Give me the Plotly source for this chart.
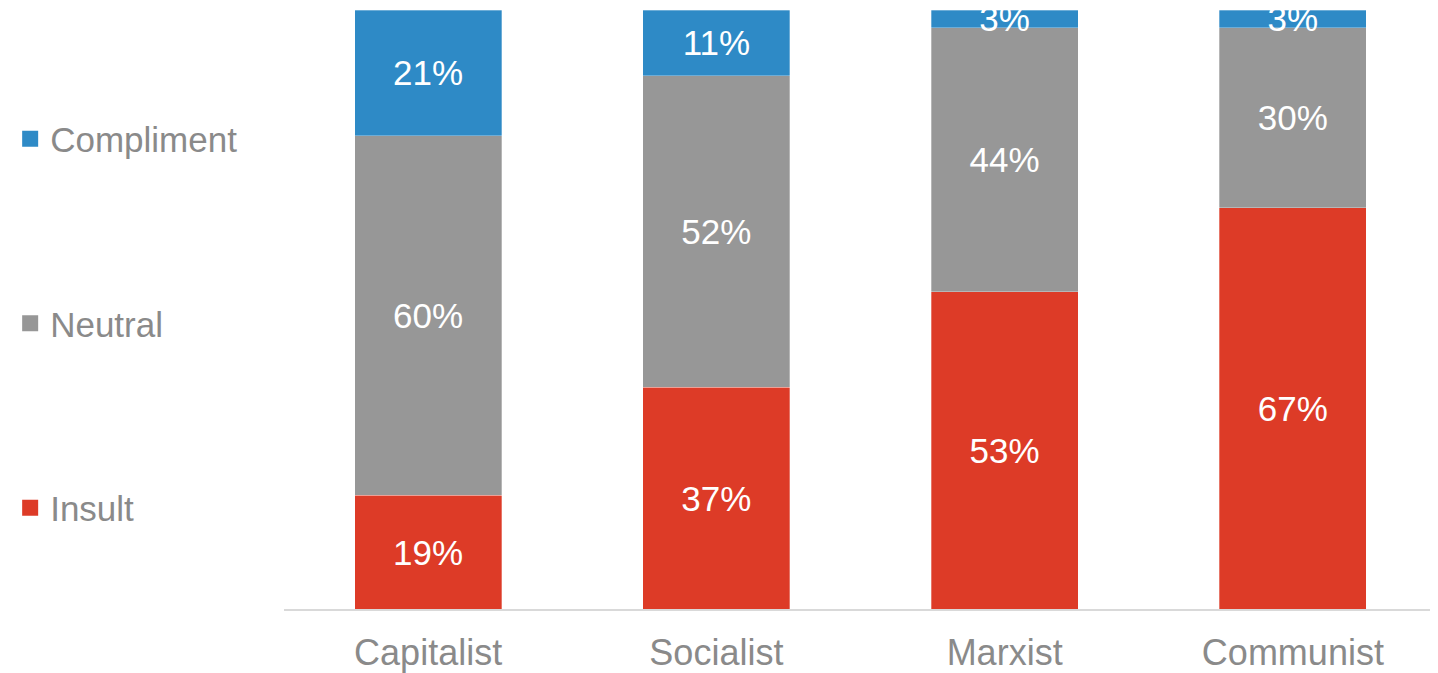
import plotly.graph_objects as go

categories = ["Capitalist", "Socialist", "Marxist", "Communist"]
insult = [19, 37, 53, 67]
neutral = [60, 52, 44, 30]
compliment = [21, 11, 3, 3]

series = [
    ("Insult", insult, "#DD3B27"),
    ("Neutral", neutral, "#979797"),
    ("Compliment", compliment, "#2E8AC6"),
]

fig = go.Figure()
for name, vals, color in series:
    fig.add_trace(go.Bar(
        x=categories, y=vals, name=name, legendgroup=name, showlegend=False,
        marker=dict(color=color, line=dict(color="rgba(255,255,255,0.6)", width=0.5)),
        text=[f"{v}%" for v in vals], textposition="inside",
        insidetextanchor="middle", constraintext="none", cliponaxis=False,
        textfont=dict(color="white", size=35, family="Liberation Sans, Arial"),
    ))

# legend entries with larger square swatches
for name, vals, color in reversed(series):
    fig.add_trace(go.Scatter(
        x=[None], y=[None], mode="markers", name=name, legendgroup=name,
        marker=dict(symbol="square", size=20, color=color),
    ))

fig.update_layout(
    barmode="stack", bargap=0.49,
    width=1438, height=673,
    margin=dict(l=270, r=9, t=2, b=72),
    plot_bgcolor="white", paper_bgcolor="white",
    font=dict(family="Liberation Sans, Arial", color="#8a8a8a"),
    uniformtext=dict(minsize=35, mode="show"),
    showlegend=True,
    legend=dict(
        x=-0.2375, xanchor="left", y=0.834, yanchor="top",
        traceorder="grouped", tracegroupgap=136,
        font=dict(size=35, color="#8a8a8a"),
        itemsizing="trace",
    ),
    xaxis=dict(
        showline=True, linecolor="#d9d9d9", linewidth=1.5,
        tickfont=dict(size=36, color="#8a8a8a"), ticks="",
        ticklabelstandoff=11,
    ),
    yaxis=dict(range=[0, 100], visible=False, showgrid=False),
)

fig.write_html("out.html")
